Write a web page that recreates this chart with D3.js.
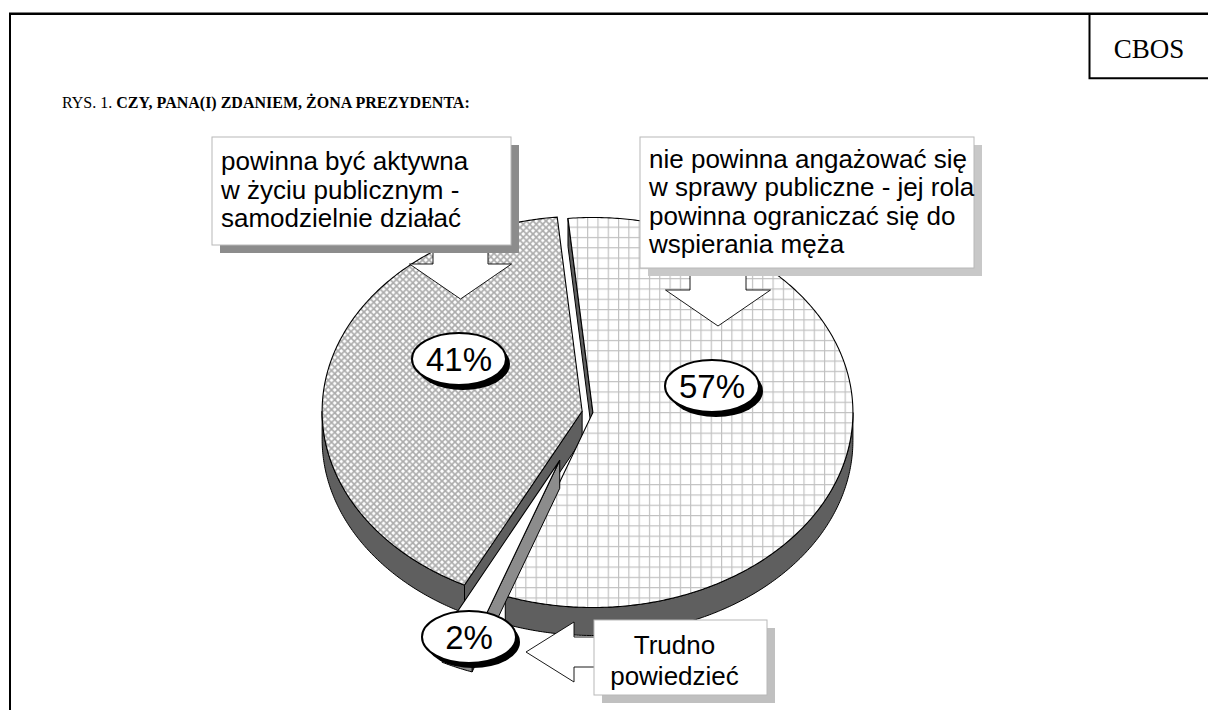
<!DOCTYPE html>
<html>
<head>
<meta charset="utf-8">
<script src="https://cdn.jsdelivr.net/npm/d3@7"></script>
<style>
  body { margin: 0; background: #fff; }
  svg { display: block; }
</style>
</head>
<body>
<script>
// answers in the order the pie runs (clockwise from the top)
var answers = ["nie powinna angażować się", "Trudno powiedzieć", "powinna być aktywna"];
var percents = [57, 2, 41];
var percentLabels = ["57%", "2%", "41%"];
var calloutLines = [
    ["nie powinna angażować się", "w sprawy publiczne - jej rola", "powinna ograniczać się do", "wspierania męża"],
    ["Trudno", "powiedzieć"],
    ["powinna być aktywna", "w życiu publicznym -", "samodzielnie działać"]
];

var width = 1208,
    height = 710;

//pie frame
var cx = 587.5, cy = 412, rx = 260, ry = 195, depth = 28;
var start = -5.5 * Math.PI / 180;
var explode = [0.021, 0.27, 0.021];
var tops = ["url(#grid)", "#ffffff", "url(#hatch)"];
var walls = ["#5f5f5f", "#8c8c8c", "#5f5f5f"];
var drawOrder = [2, 0, 1];

//where the callouts sit
var labelPos = [[712, 386], [469, 637], [459, 359]];
var boxes = [
    {x: 640, y: 137, w: 334, h: 131, shadow: "#c8c8c8", align: "start", lead: 31, step: 28.4,
     arrow: {dir: "down", bx: 718, by: 268, sh: 28, sl: 22, hh: 52.5, hl: 36}},
    {x: 594, y: 620, w: 173, h: 75, shadow: "#c0c0c0", align: "middle", lead: 34, step: 30.5,
     arrow: {dir: "left", bx: 594, by: 652, sh: 15, sl: 20, hh: 30, hl: 48}},
    {x: 212, y: 137, w: 299, h: 108, shadow: "#8c8c8c", align: "start", lead: 33, step: 28.5,
     arrow: {dir: "down", bx: 460.5, by: 245, sh: 27.5, sl: 19, hh: 51, hl: 35}}
];

var svg = d3.select("body")
    .append("svg")
    .attr("width", width)
    .attr("height", height);

var defs = svg.append("defs");

var hatch = defs.append("pattern")
    .attr("id", "hatch")
    .attr("patternUnits", "userSpaceOnUse")
    .attr("width", 6.5)
    .attr("height", 6.5);
hatch.append("rect").attr("width", 6.5).attr("height", 6.5).attr("fill", "#fff");
hatch.append("path")
    .attr("d", "M-1,-1L7.5,7.5M7.5,-1L-1,7.5")
    .attr("stroke", "#acacac")
    .attr("stroke-width", 1.7);

var grid = defs.append("pattern")
    .attr("id", "grid")
    .attr("patternUnits", "userSpaceOnUse")
    .attr("width", 10.3)
    .attr("height", 10.3);
grid.append("rect").attr("width", 10.3).attr("height", 10.3).attr("fill", "#fff");
grid.append("path")
    .attr("d", "M0.5,0V10.3M0,0.5H10.3")
    .attr("stroke", "#c0c0c0")
    .attr("stroke-width", 1.3);

//frame
svg.append("line").attr("x1", 9).attr("y1", 13.8).attr("x2", width).attr("y2", 13.8)
    .attr("stroke", "#000").attr("stroke-width", 2.4);
svg.append("line").attr("x1", 10).attr("y1", 13).attr("x2", 10).attr("y2", height)
    .attr("stroke", "#000").attr("stroke-width", 2);
svg.append("path").attr("d", "M1089.5,13V78.3H1208")
    .attr("fill", "none").attr("stroke", "#000").attr("stroke-width", 2);
svg.append("text")
    .attr("x", 1149).attr("y", 58)
    .attr("text-anchor", "middle")
    .style("font-family", "'Liberation Serif', 'Times New Roman', serif")
    .style("font-size", "27px")
    .text("CBOS");

var title = svg.append("text")
    .attr("x", 62).attr("y", 108)
    .style("font-family", "'Liberation Serif', 'Times New Roman', serif")
    .style("font-size", "16px");
title.append("tspan").text("RYS. 1. ");
title.append("tspan").style("font-weight", "bold").text("CZY, PANA(I) ZDANIEM, ŻONA PREZYDENTA:");

//pie layout
var arcs = d3.pie()
    .sort(null)
    .startAngle(start)
    .endAngle(start + 2 * Math.PI)(percents);

function rim(c, a) {
    return [c[0] + rx * Math.sin(a), c[1] - ry * Math.cos(a)];
}
function arcPoints(c, a0, a1) {
    var n = Math.max(2, Math.ceil((a1 - a0) / 0.01)), pts = [];
    for (var i = 0; i <= n; i++) pts.push(rim(c, a0 + (a1 - a0) * i / n));
    return pts;
}
function down(p) { return [p[0], p[1] + depth]; }

var line = d3.line();
var pie = svg.append("g").attr("class", "pie");

drawOrder.forEach(function(i) {
    var d = arcs[i],
        mid = (d.startAngle + d.endAngle) / 2,
        c = [cx + explode[i] * rx * Math.sin(mid), cy - explode[i] * ry * Math.cos(mid)],
        g = pie.append("g").attr("class", "slice");

    //radial walls that face the viewer
    if (Math.sin(d.startAngle) < 0) {
        var r0 = rim(c, d.startAngle);
        g.append("path")
            .attr("d", line([c, r0, down(r0), down(c)]) + "Z")
            .attr("fill", walls[i]).attr("stroke", "#000").attr("stroke-width", 1);
    }
    if (Math.sin(d.endAngle) > 0) {
        var r1 = rim(c, d.endAngle);
        g.append("path")
            .attr("d", line([c, r1, down(r1), down(c)]) + "Z")
            .attr("fill", walls[i]).attr("stroke", "#000").attr("stroke-width", 1);
    }
    //outer wall, front half only
    var t0 = Math.max(d.startAngle, Math.PI / 2),
        t1 = Math.min(d.endAngle, 3 * Math.PI / 2);
    if (t1 > t0) {
        var topEdge = arcPoints(c, t0, t1);
        var side = topEdge.concat(topEdge.slice().reverse().map(down));
        g.append("path")
            .attr("d", line(side) + "Z")
            .attr("fill", walls[i]).attr("stroke", "#000").attr("stroke-width", 1);
    }
    //top face
    g.append("path")
        .attr("d", line([c].concat(arcPoints(c, d.startAngle, d.endAngle))) + "Z")
        .attr("fill", tops[i]).attr("stroke", "#000").attr("stroke-width", 1.1)
        .attr("stroke-linejoin", "miter");
});

//callout boxes with block arrows
function arrowPoints(a) {
    if (a.dir === "down") {
        return [[a.bx - a.sh, a.by], [a.bx - a.sh, a.by + a.sl], [a.bx - a.hh, a.by + a.sl],
                [a.bx, a.by + a.sl + a.hl], [a.bx + a.hh, a.by + a.sl], [a.bx + a.sh, a.by + a.sl],
                [a.bx + a.sh, a.by]];
    }
    return [[a.bx, a.by - a.sh], [a.bx - a.sl, a.by - a.sh], [a.bx - a.sl, a.by - a.hh],
            [a.bx - a.sl - a.hl, a.by], [a.bx - a.sl, a.by + a.hh], [a.bx - a.sl, a.by + a.sh],
            [a.bx, a.by + a.sh]];
}

var callouts = svg.append("g").attr("class", "callouts");
boxes.forEach(function(b, i) {
    var g = callouts.append("g");
    var pts = arrowPoints(b.arrow);
    g.append("path").attr("d", line(pts) + "Z").attr("fill", "#fff");
    g.append("path").attr("d", line(pts))
        .attr("fill", "none").attr("stroke", "#000").attr("stroke-width", 0.9);
    g.append("rect")
        .attr("x", b.x + 8).attr("y", b.y + 8).attr("width", b.w).attr("height", b.h)
        .attr("fill", b.shadow);
    g.append("rect")
        .attr("x", b.x).attr("y", b.y).attr("width", b.w).attr("height", b.h)
        .attr("fill", "#fff").attr("stroke", "#b8b8b8").attr("stroke-width", 1);
    var tx = b.align === "middle" ? b.x + b.w / 2 - 6 : b.x + 9;
    g.selectAll("text")
        .data(calloutLines[i])
        .enter()
        .append("text")
        .attr("x", tx)
        .attr("y", function(d, k) { return b.y + b.lead + k * b.step; })
        .attr("text-anchor", b.align)
        .style("font-family", "'Liberation Sans', Arial, sans-serif")
        .style("font-size", "26px")
        .text(function(d) { return d; });
});

//percentage bubbles
var bubbles = svg.append("g").attr("class", "bubbles")
    .selectAll("g")
    .data(percentLabels)
    .enter()
    .append("g")
    .attr("transform", function(d, i) { return "translate(" + labelPos[i] + ")"; });
bubbles.append("ellipse")
    .attr("cx", 4).attr("cy", 5).attr("rx", 47).attr("ry", 26)
    .attr("fill", "#000");
bubbles.append("ellipse")
    .attr("rx", 47).attr("ry", 26)
    .attr("fill", "#fff").attr("stroke", "#000").attr("stroke-width", 2);
bubbles.append("text")
    .attr("y", 12)
    .attr("text-anchor", "middle")
    .style("font-family", "'Liberation Sans', Arial, sans-serif")
    .style("font-size", "33px")
    .text(function(d) { return d; });
</script>
</body>
</html>
